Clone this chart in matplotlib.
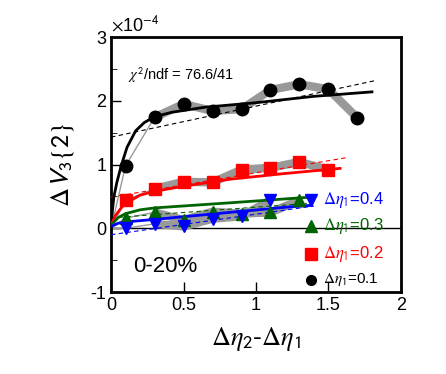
import matplotlib.pyplot as plt

# data points (units of 1e-4)
x_pts = [0.1, 0.3, 0.5, 0.7, 0.9, 1.1, 1.3, 1.5, 1.7]
v_01 = [0.98, 1.74, 1.95, 1.84, 1.87, 2.17, 2.26, 2.18, 1.73]
v_02 = [0.44, 0.62, 0.73, 0.72, 0.92, 0.95, 1.04, 0.92]
v_03 = [0.16, 0.25, 0.13, 0.26, 0.23, 0.25, 0.44]
v_04 = [0.0, 0.07, 0.03, 0.15, 0.19, 0.44]

# fit curves
fit01_x = [0.0, 0.01, 0.02, 0.04, 0.07, 0.11, 0.17, 0.23, 0.3, 0.42, 0.65, 1.0, 1.4, 1.8]
fit01_y = [0.0, 0.3, 0.5, 0.72, 0.98, 1.27, 1.53, 1.66, 1.75, 1.82, 1.9, 1.97, 2.07, 2.14]
fit02_x = [0.0, 0.03, 0.07, 0.1, 0.2, 0.3, 0.5, 0.82, 1.2, 1.58]
fit02_y = [0.05, 0.2, 0.32, 0.39, 0.52, 0.58, 0.66, 0.77, 0.86, 0.94]
fit03_x = [0.0, 0.05, 0.1, 0.2, 0.3, 0.82, 1.38]
fit03_y = [0.05, 0.17, 0.23, 0.29, 0.32, 0.4, 0.49]
fit04_x = [0.0, 0.05, 0.1, 0.3, 0.82, 1.2, 1.38]
fit04_y = [0.03, 0.08, 0.1, 0.14, 0.25, 0.33, 0.36]

# dashed lines (end points)
dash01 = ([0.0, 1.83], [1.43, 2.32])
dash02 = ([0.0, 1.63], [0.49, 1.11])
dash03 = ([0.0, 1.35], [0.165, 0.39])
dash04 = ([0.0, 1.4], [-0.1, 0.35])

x_ticks = [0, 0.5, 1, 1.5, 2]
x_ticklabels = ['0', '0.5', '1', '1.5', '2']
y_ticks = [-1, 0, 1, 2, 3]
y_ticklabels = ['-1', '0', '1', '2', '3']

plt.rcParams['font.family'] = ['Liberation Sans', 'DejaVu Sans']
plt.rcParams['mathtext.fontset'] = 'stix'

fig = plt.figure(figsize=(4.46, 3.74), dpi=100)
ax = fig.add_axes([0.249, 0.219, 0.650, 0.682])

ax.axhline(0, color='black', lw=1)

series = [
    (v_01, 'black', 'o', 9, fit01_x, fit01_y, dash01),
    (v_02, 'red', 's', 8, fit02_x, fit02_y, dash02),
    (v_03, '#006400', '^', 8, fit03_x, fit03_y, dash03),
    (v_04, 'blue', 'v', 8, fit04_x, fit04_y, dash04),
]

for vals, col, mk, ms, fx, fy, dsh in series:
    xs = x_pts[:len(vals)]
    # systematic band
    ax.plot([0] + xs[:2], [0] + vals[:2], color='#999999', lw=1, zorder=2)
    ax.plot(xs[1:], vals[1:], color='#999999', lw=6, solid_capstyle='butt', zorder=2)
    ax.plot(dsh[0], dsh[1], color=col, lw=0.8, ls=(0, (4, 3)), zorder=3)
    ax.plot(fx, fy, color=col, lw=2, zorder=4)
    ax.plot(xs, vals, mk, color=col, ms=ms, mec=col, zorder=5)

# legend
leg = [('blue', 'v', r'$\Delta\eta_\mathsf{1}$=0.4', 0.44, 8, 12),
       ('#006400', '^', r'$\Delta\eta_\mathsf{1}$=0.3', 0.03, 8, 12),
       ('red', 's', r'$\Delta\eta_\mathsf{1}$=0.2', -0.4, 8, 12),
       ('black', 'o', r'$\Delta\eta_\mathsf{1}$=0.1', -0.81, 7, 11)]
for col, mk, lab, yy, ms, fs in leg:
    ax.plot(1.38, yy, mk, color=col, ms=ms, zorder=5)
    ax.text(1.46, yy, lab, color=col, fontsize=fs, va='center', ha='left')

ax.text(0.15, -0.6, '0-20%', fontsize=16, va='center', ha='left')
ax.text(0.12, 2.4, r'$\chi^\mathsf{2}$/ndf = 76.6/41', fontsize=10.5, va='center', ha='left')
ax.text(0.0, 1.01, r'$\times$10$^\mathsf{-4}$', transform=ax.transAxes, fontsize=13,
        va='bottom', ha='left')

ax.set_xlim(0, 2)
ax.set_ylim(-1, 3)
ax.set_xticks(x_ticks, labels=x_ticklabels)
ax.set_yticks(y_ticks, labels=y_ticklabels)
ax.set_yticks([-0.5, 0.5, 1.5, 2.5], minor=True)
ax.tick_params(direction='in', labelsize=13, length=7, width=1)
ax.tick_params(which='minor', direction='in', length=4)
for s in ax.spines.values():
    s.set_linewidth(2)

ax.set_xlabel(r'$\Delta\eta_\mathsf{2}$-$\Delta\eta_\mathsf{1}$', fontsize=19, labelpad=8)
ax.set_ylabel(r'$\Delta\mathsf{V}_\mathsf{3}\mathsf{\{2\}}$', fontsize=19, labelpad=10)

fig.savefig('out.png', dpi=100)
